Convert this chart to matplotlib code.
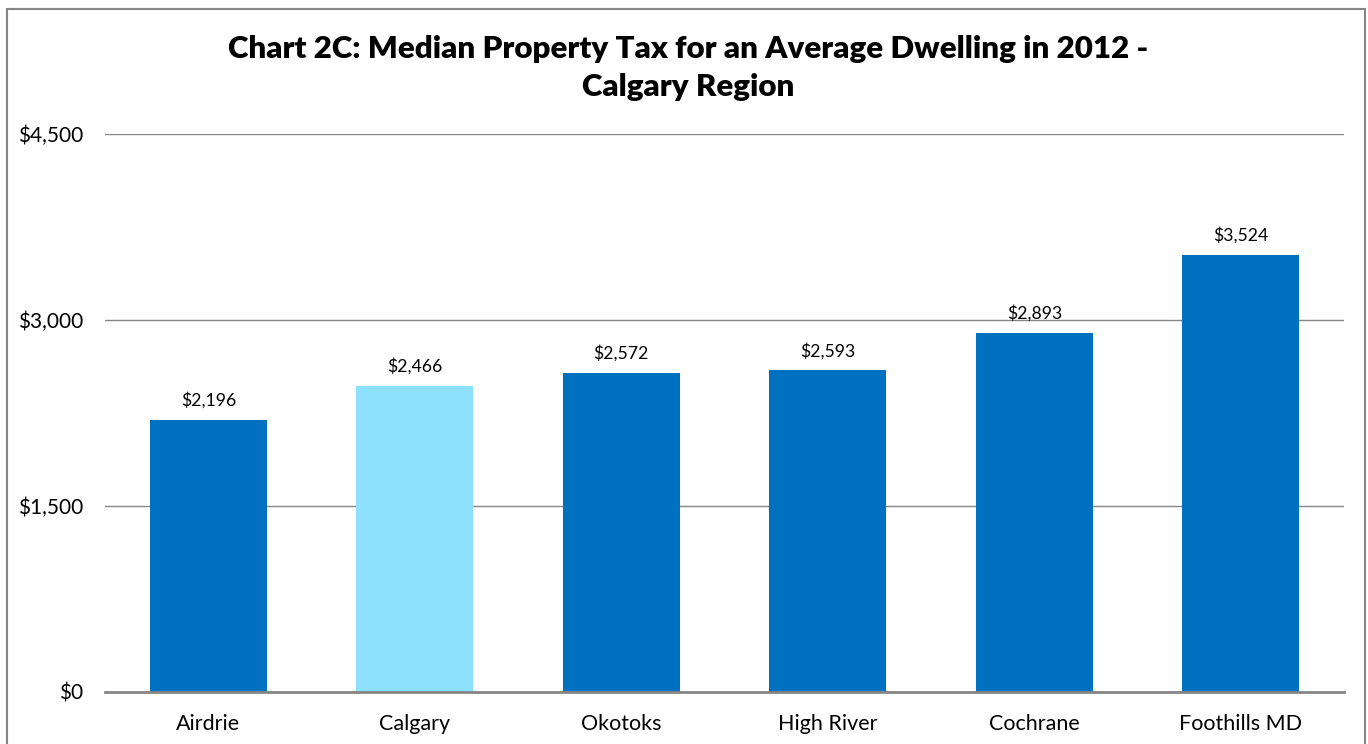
import matplotlib
matplotlib.use("Agg")
import matplotlib.pyplot as plt
from matplotlib.patches import Rectangle

# data
towns = ["Airdrie", "Calgary", "Okotoks", "High River", "Cochrane", "Foothills MD"]
tax = [2196, 2466, 2572, 2593, 2893, 3524]
bar_colors = ["#0070C0", "#8DE1FD", "#0070C0", "#0070C0", "#0070C0", "#0070C0"]
yticks = [0, 1500, 3000, 4500]

plt.rcParams["font.family"] = ["Lato", "DejaVu Sans"]

fig = plt.figure(figsize=(13.68, 7.44), dpi=100)
ax = fig.add_axes([0.0768, 0.0699, 0.9057, 0.75])

x = list(range(len(towns)))
ax.bar(x, tax, width=0.567, color=bar_colors, zorder=3)

for xi, v in zip(x, tax):
    ax.text(xi, v + 90, "${:,}".format(v), ha="center", va="bottom", fontsize=12.7)

ax.set_xlim(-0.5, len(towns) - 0.5)
ax.set_ylim(0, 4500)
ax.set_yticks(yticks)
ax.set_yticklabels(["${:,}".format(t) for t in yticks], fontsize=15)
ax.set_xticks(x)
ax.set_xticklabels(towns, fontsize=15.5)
ax.tick_params(axis="both", length=0)
ax.tick_params(axis="y", pad=16)
ax.tick_params(axis="x", pad=16)

ax.grid(axis="y", color="#868686", linewidth=1, zorder=0)
for s in ["top", "right", "left"]:
    ax.spines[s].set_visible(False)
ax.spines["bottom"].set_color("#868686")
ax.spines["bottom"].set_linewidth(2)
ax.spines["bottom"].set_zorder(4)

fig.text(0.503, 0.909, "Chart 2C: Median Property Tax for an Average Dwelling in 2012 -\nCalgary Region",
         ha="center", va="center", fontsize=22.5, fontweight="heavy", linespacing=1.45)

# outer chart border
fig.patches.append(Rectangle((7 / 1368, -0.02), (1365 - 7) / 1368, 1 - 9 / 744 + 0.02,
                             transform=fig.transFigure, fill=False, edgecolor="#868686",
                             linewidth=1.5))

fig.savefig("out.png", dpi=100)
